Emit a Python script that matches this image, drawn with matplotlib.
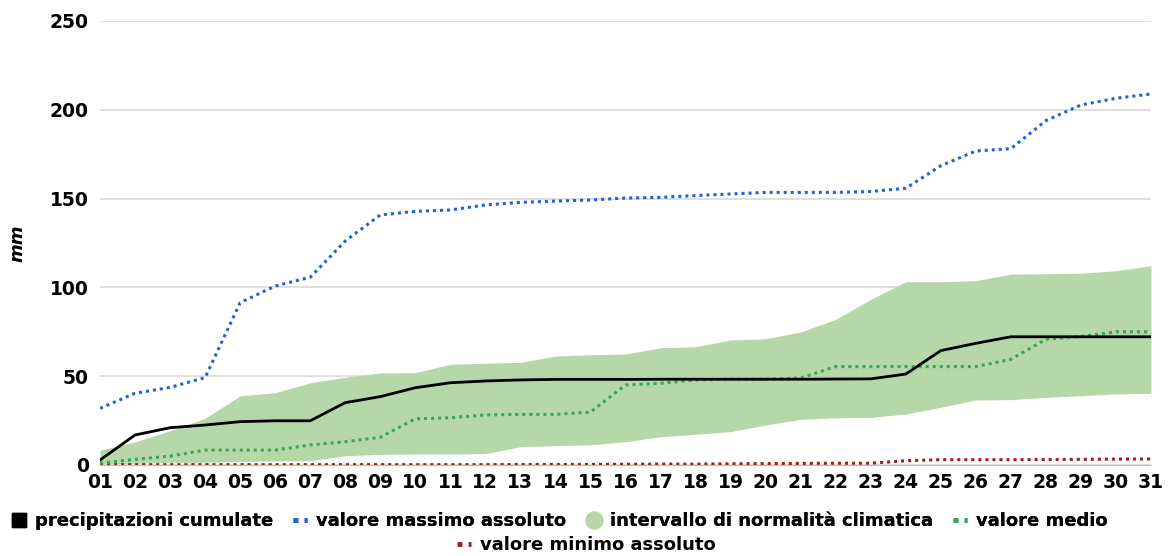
import numpy as np
import matplotlib.pyplot as plt
from matplotlib.lines import Line2D

days = [f"{d:02d}" for d in range(1, 32)]

cumulated = [2.8, 16.9, 21.0, 22.5, 24.4, 24.9, 24.9, 35.1, 38.5, 43.5,
             46.3, 47.3, 47.9, 48.2, 48.2, 48.2, 48.3, 48.3, 48.3, 48.3,
             48.3, 48.4, 48.5, 51.2, 64.4, 68.5, 72.2, 72.2, 72.2, 72.2, 72.2]

max_abs = [31.9, 40.4, 43.7, 49.2, 91.4, 100.8, 105.7, 126.1, 140.8, 142.8,
           143.6, 146.4, 147.9, 148.6, 149.2, 150.3, 150.7, 151.7, 152.6, 153.5,
           153.5, 153.5, 154.0, 155.8, 168.5, 176.8, 178.1, 193.9, 202.7, 206.5, 208.9]

mean_val = [1.0, 3.2, 5.0, 8.4, 8.4, 8.4, 11.3, 13.1, 15.6, 26.0,
            26.6, 28.2, 28.5, 28.5, 29.8, 45.0, 46.0, 47.9, 48.3, 48.3,
            49.0, 55.4, 55.4, 55.4, 55.4, 55.4, 59.5, 70.8, 72.3, 75.0, 75.0]

min_abs = [0.2, 0.2, 0.2, 0.2, 0.2, 0.2, 0.2, 0.2, 0.2, 0.2,
           0.2, 0.2, 0.3, 0.3, 0.3, 0.4, 0.5, 0.5, 0.7, 0.8,
           0.9, 1.0, 1.0, 2.4, 3.0, 3.0, 3.0, 3.1, 3.2, 3.3, 3.4]

band_low = [0.5, 1.0, 1.5, 1.5, 2.0, 2.3, 2.4, 5.2, 6.0, 6.2,
            6.2, 6.4, 10.3, 10.9, 11.4, 13.1, 15.9, 17.3, 18.8, 22.5,
            25.7, 26.6, 26.8, 28.7, 32.5, 36.6, 36.8, 38.1, 39.0, 40.0, 40.4]

band_high = [8.4, 13.0, 19.3, 26.3, 38.9, 40.7, 46.3, 49.4, 51.8, 52.0,
             56.7, 57.3, 57.8, 61.4, 62.1, 62.5, 66.0, 66.6, 70.4, 71.1,
             74.9, 82.0, 93.3, 103.2, 103.2, 103.8, 107.5, 107.7, 108.0, 109.4, 112.2]

x = np.arange(1, 32)

c_blue = '#1f63d9'
c_band = '#b6d7a8'
c_mean = '#34a853'
c_red = '#a61c1c'

plt.rcParams['font.family'] = 'DejaVu Sans'
plt.rcParams['font.weight'] = 'bold'

fig = plt.figure(figsize=(11.73, 5.56), dpi=100)
ax = fig.add_axes([100 / 1173, 1 - 465 / 556, 1051 / 1173, 444 / 556])

ax.fill_between(x, band_low, band_high, color=c_band, lw=0, zorder=1)
ax.plot(x, min_abs, color=c_red, ls=(0, (1, 1.3)), lw=2.2, zorder=3)
ax.plot(x, mean_val, color=c_mean, ls=(0, (1, 1.3)), lw=2.2, zorder=3)
ax.plot(x, max_abs, color=c_blue, ls=(0, (1, 1.3)), lw=2.2, zorder=3)
ax.plot(x, cumulated, color='black', lw=2.0, zorder=4)

ax.set_xlim(1, 31)
ax.set_ylim(0, 250)
ax.set_yticks(np.arange(0, 251, 50))
ax.set_xticks(x)
ax.set_xticklabels(days)
ax.grid(axis='y', color='#d9d9d9', lw=1.2, zorder=0)
ax.set_axisbelow(True)
for s in ['top', 'right', 'left']:
    ax.spines[s].set_visible(False)
ax.spines['bottom'].set_color('#bdbdbd')
ax.tick_params(length=0, labelsize=13.5, pad=6)
ax.tick_params(axis='y', pad=8)
for lab in ax.get_xticklabels() + ax.get_yticklabels():
    lab.set_fontweight('bold')
ax.set_ylabel('mm', fontsize=13, fontstyle='italic', fontweight='bold')
ax.yaxis.set_label_coords(-0.07, 0.5)

dot = dict(ls=(0, (1, 1.3)), lw=3.5)
h1 = [Line2D([], [], color='black', marker='s', ls='', markersize=10),
      Line2D([], [], color=c_blue, **dot),
      Line2D([], [], color=c_band, marker='o', ls='', markersize=12),
      Line2D([], [], color=c_mean, **dot)]
l1 = ['precipitazioni cumulate', 'valore massimo assoluto',
      'intervallo di normalità climatica', 'valore medio']
leg1 = fig.legend(h1, l1, loc='center', bbox_to_anchor=(0.477, 1 - 521 / 556), ncol=4,
                  frameon=False, handlelength=0.8, handletextpad=0.5,
                  columnspacing=1.1, prop={'weight': 'bold', 'size': 13})
fig.add_artist(leg1)
h2 = [Line2D([], [], color=c_red, **dot)]
fig.legend(h2, ['valore minimo assoluto'], loc='center',
           bbox_to_anchor=(0.5, 1 - 545 / 556), frameon=False,
           handlelength=0.8, handletextpad=0.5, prop={'weight': 'bold', 'size': 13})

fig.savefig('out.png', dpi=100)
